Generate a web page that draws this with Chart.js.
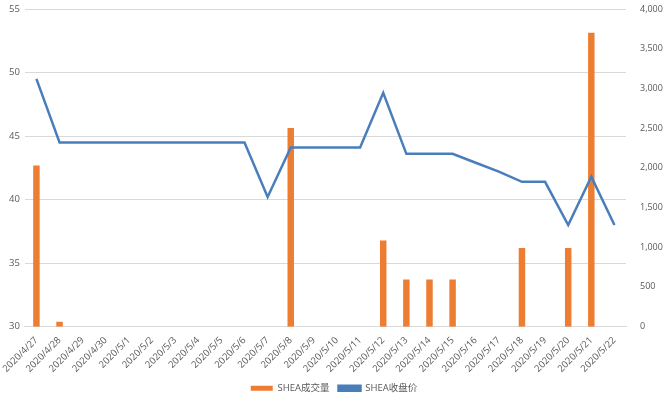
<!DOCTYPE html>
<html>
<head>
<meta charset="utf-8">
<script src="https://cdn.jsdelivr.net/npm/chart.js@4"></script>
<style>
  html, body { margin: 0; padding: 0; background: #fff; }
  #wrap { width: 664px; height: 403px; }
</style>
</head>
<body>
<div id="wrap"><canvas id="chart" width="664" height="403"></canvas></div>
<script>
// dates on the x axis
const dates = ["2020/4/27", "2020/4/28", "2020/4/29", "2020/4/30", "2020/5/1", "2020/5/2",
  "2020/5/3", "2020/5/4", "2020/5/5", "2020/5/6", "2020/5/7", "2020/5/8", "2020/5/9",
  "2020/5/10", "2020/5/11", "2020/5/12", "2020/5/13", "2020/5/14", "2020/5/15", "2020/5/16",
  "2020/5/17", "2020/5/18", "2020/5/19", "2020/5/20", "2020/5/21", "2020/5/22"];

// SHEA成交量 (right axis)
const volume = [2030, 60, null, null, null, null, null, null, null, null, null, 2500, null,
  null, null, 1085, 595, 595, 595, null, null, 990, null, 990, 3700, null];

// SHEA收盘价 (left axis)
const closePrice = [49.5, 44.5, 44.5, 44.5, 44.5, 44.5, 44.5, 44.5, 44.5, 44.5, 40.2, 44.1,
  44.1, 44.1, 44.1, 48.4, 43.6, 43.6, 43.6, 42.9, 42.2, 41.4, 41.4, 38.0, 41.8, 38.0];

const grey = "#595959";
const tickFont = { family: "'Open Sans', 'Noto Sans CJK SC', sans-serif", size: 9.5 };

// let the top tick label stick out above the plot, like the original
function noTopPad(scale) {
  scale.paddingTop = 0;
}

new Chart(document.getElementById("chart").getContext("2d"), {
  data: {
    labels: dates,
    datasets: [
      {
        type: "line",
        label: "SHEA收盘价",
        data: closePrice,
        yAxisID: "y",
        borderColor: "#4a7ebb",
        backgroundColor: "#4a7ebb",
        borderWidth: 2.5,
        pointRadius: 0,
        tension: 0,
        order: 1
      },
      {
        type: "bar",
        label: "SHEA成交量",
        data: volume,
        yAxisID: "y1",
        backgroundColor: "#ed7d31",
        borderWidth: 0,
        categoryPercentage: 1,
        barPercentage: 0.28,
        order: 2
      }
    ]
  },
  options: {
    responsive: false,
    animation: false,
    layout: { padding: { left: 4, right: 0, top: 9, bottom: 0 } },
    scales: {
      x: {
        grid: { display: false },
        border: { color: "#d9d9d9" },
        ticks: {
          color: grey,
          font: tickFont,
          maxRotation: 45,
          minRotation: 45,
          autoSkip: false,
          padding: 0
        }
      },
      y: {
        position: "left",
        min: 30,
        max: 55,
        afterFit: noTopPad,
        ticks: { stepSize: 5, color: grey, font: tickFont, padding: 5 },
        grid: { color: "#d9d9d9", drawTicks: false },
        border: { display: false }
      },
      y1: {
        position: "right",
        min: 0,
        max: 4000,
        afterFit: function (scale) {
          scale.width = 38;
          scale.paddingTop = 0;
        },
        ticks: {
          stepSize: 500,
          color: grey,
          font: { family: tickFont.family, size: 9 },
          padding: 6,
          callback: function (value) {
            return Number(value).toLocaleString("en-US");
          }
        },
        grid: { display: false },
        border: { display: false }
      }
    },
    plugins: {
      legend: {
        position: "bottom",
        reverse: true,
        labels: {
          color: grey,
          font: tickFont,
          boxWidth: 22,
          boxHeight: 5,
          padding: 9
        }
      },
      tooltip: { enabled: false }
    }
  }
});
</script>
</body>
</html>
